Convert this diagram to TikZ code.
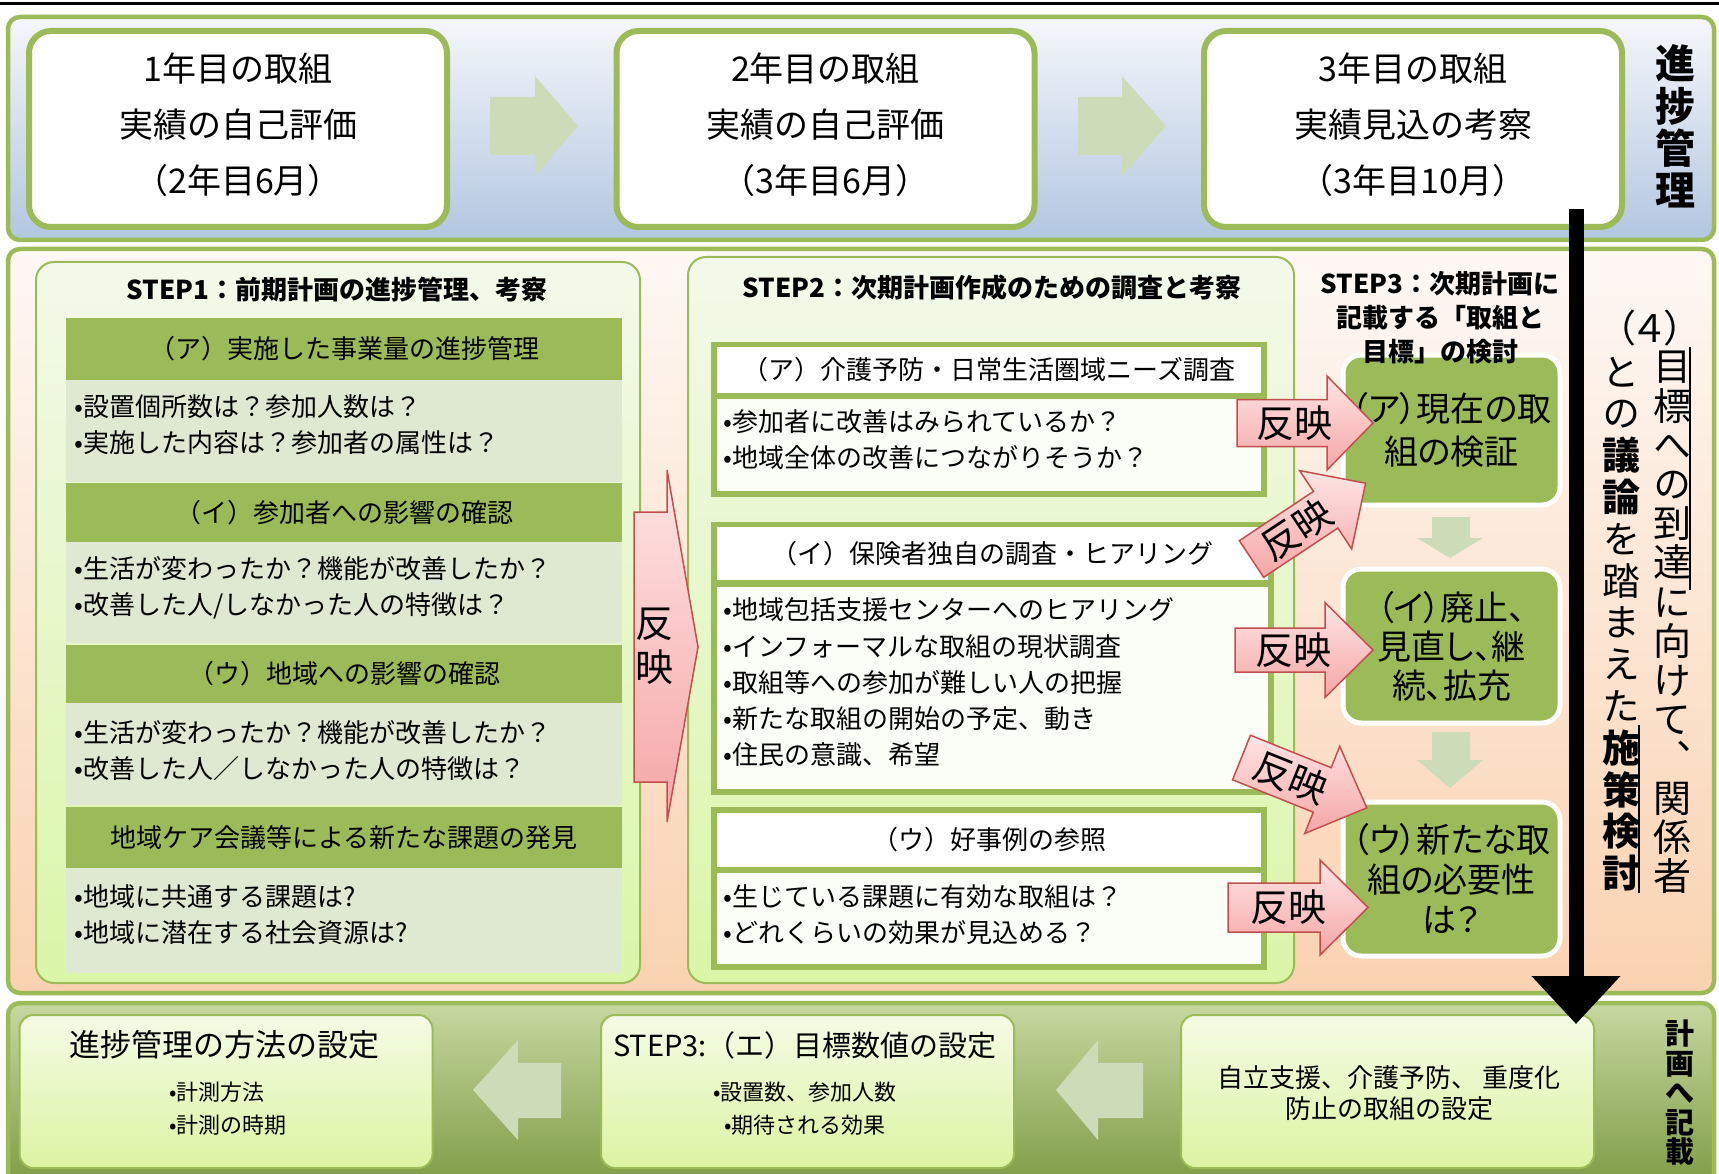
\documentclass[tikz,border=0pt]{standalone}
\usepackage{fontspec}
\setmainfont{Noto Sans CJK JP}
\newfontfamily\jpv{Noto Sans CJK JP}[RawFeature=+vert]
\newfontfamily\jpp{Noto Sans CJK JP}[RawFeature=+palt]
\usetikzlibrary{arrows.meta}
\definecolor{grn}{HTML}{9BBB59}
\definecolor{grnA}{HTML}{CDDCB8}
\definecolor{bodyG}{HTML}{DFE8D0}
\definecolor{pinkD}{HTML}{C0504D}
\definecolor{pinkL}{HTML}{FFE4E4}
\definecolor{pinkM}{HTML}{F5A6A6}
\definecolor{topA}{HTML}{F5F7FB}
\definecolor{topB}{HTML}{B2C6E0}
\definecolor{midA}{HTML}{FEF8F5}
\definecolor{midB}{HTML}{FAD2B0}
\definecolor{panA}{HTML}{F3F9EA}
\definecolor{panB}{HTML}{DAF6A8}
\definecolor{botA}{HTML}{C6D8A0}
\definecolor{botB}{HTML}{7A973F}
\definecolor{bbA}{HTML}{F4FBE5}
\definecolor{bbB}{HTML}{DCF4A2}
\definecolor{wbody}{HTML}{FBFDF7}
\tikzset{
 band/.style={draw=grn, line width=4.5, rounded corners=12},
 topbox/.style={draw=grn, line width=6, fill=white, rounded corners=22, minimum width=418, minimum height=196, inner sep=0},
 toptext/.style={align=center, inner sep=0, font=\fontsize{34}{56}\selectfont},
 panel/.style={draw=grn, line width=2, rounded corners=18, top color=panA, bottom color=panB, inner sep=0},
 ttl/.style={font=\bfseries\fontsize{26}{34}\selectfont, align=center, inner sep=0},
 hdr/.style={fill=grn, minimum width=556, inner sep=0, font=\fontsize{26}{30}\selectfont},
 hbody/.style={fill=bodyG, minimum width=556, inner sep=0},
 btext/.style={anchor=west, align=left, inner sep=0, font=\fontsize{26}{36}\selectfont},
 sframe/.style={fill=grn, inner sep=0},
 whdr/.style={fill=white, inner sep=0, font=\fontsize{26}{30}\selectfont},
 wbod/.style={fill=wbody, inner sep=0},
 gbox/.style={fill=grn, draw=white, line width=5, rounded corners=18, minimum width=217, align=center, inner sep=0},
 lgarrow/.style={fill=grnA},
 pinkarrow/.style={draw=pinkD, line width=1.5, top color=pinkL, bottom color=pinkM},
 reflect/.style={font=\fontsize{38}{44}\selectfont, inner sep=0, align=center},
 bbox/.style={draw=grn, line width=2, rounded corners=14, top color=bbA, bottom color=bbB, minimum width=413, minimum height=153, inner sep=0},
 vcol/.style={align=center, inner sep=0},
}
\begin{document}
\begin{tikzpicture}[x=1pt,y=-1pt]
\useasboundingbox (0,0) rectangle (1719,1174);
\fill[white] (0,0) rectangle (1719,1174);
\draw[line width=2.5] (0,3.5) -- (1719,3.5);
% bands
\draw[band, top color=topA, bottom color=topB] (8,17) rectangle (1714,240);
\draw[band, top color=midA, bottom color=midB] (8,249) rectangle (1714,993);
\begin{scope}
\clip (0,0) rectangle (1719,1174);
\draw[band, top color=botA, bottom color=botB] (8,1003) rectangle (1714,1200);
\end{scope}
% top row
\node[topbox] (y1) at (238,129) {};
\node[topbox] (y2) at (825.5,129) {};
\node[topbox] (y3) at (1413,129) {};
\node[toptext] (y1t) at (238,125) {1年目の取組\\実績の自己評価\\（2年目6月）};
\node[toptext] (y2t) at (825.5,125) {2年目の取組\\実績の自己評価\\（3年目6月）};
\node[toptext] (y3t) at (1413,125) {3年目の取組\\実績見込の考察\\（3年目10月）};
\fill[lgarrow] (490,97) -- (535,97) -- (535,76) -- (578,126) -- (535,176) -- (535,155) -- (490,155) -- cycle;
\fill[lgarrow] (1078,97) -- (1122,97) -- (1122,76) -- (1166,126) -- (1122,176) -- (1122,155) -- (1078,155) -- cycle;
\node[font=\bfseries\fontsize{40}{42.3}\selectfont, align=center, inner sep=0] (shinchoku) at (1675,126.5) {進\\捗\\管\\理};
% panels
\node[panel, minimum width=604, minimum height=721] (s1) at (338,622.5) {};
\node[panel, minimum width=606, minimum height=726] (s2) at (991,620) {};
\node[ttl] (t1) at (337,290) {STEP1：前期計画の進捗管理、考察};
\node[ttl] (t2) at (992,288) {STEP2：次期計画作成のための調査と考察};
% STEP1 blocks
\node[hdr, minimum height=62] (h1a) at (344,349) {（ア）実施した事業量の進捗管理};
\node[hbody, minimum height=102] (b1a) at (344,431) {};
\node[hdr, minimum height=59] (h1b) at (344,512.5) {（イ）参加者への影響の確認};
\node[hbody, minimum height=101] (b1b) at (344,592.5) {};
\node[hdr, minimum height=58] (h1c) at (344,674) {（ウ）地域への影響の確認};
\node[hbody, minimum height=102] (b1c) at (344,754) {};
\node[hdr, minimum height=61] (h1d) at (344,837.5) {地域ケア会議等による新たな課題の発見};
\node[hbody, minimum height=105] (b1d) at (344,920.5) {};
\node[btext] (x1a) at (74,425) {•設置個所数は？参加人数は？\\•実施した内容は？参加者の属性は？};
\node[btext] (x1b) at (74,587.5) {•生活が変わったか？機能が改善したか？\\•改善した人/しなかった人の特徴は？};
\node[btext] (x1c) at (74,750.5) {•生活が変わったか？機能が改善したか？\\•改善した人／しなかった人の特徴は？};
\node[btext] (x1d) at (74,915) {•地域に共通する課題は?\\•地域に潜在する社会資源は?};
% STEP2 blocks
\node[sframe, minimum width=556, minimum height=155] (f2a) at (989,419.5) {};
\node[whdr, minimum width=544, minimum height=46] (h2a) at (989,370) {（ア）介護予防・日常生活圏域ニーズ調査};
\node[wbod, minimum width=544, minimum height=92] (b2a) at (989,445) {};
\node[btext] (x2a) at (723,439.5) {•参加者に改善はみられているか？\\•地域全体の改善につながりそうか？};
\node[sframe, minimum width=563, minimum height=273] (f2b) at (992.5,658.5) {};
\node[whdr, minimum width=551, minimum height=53] (h2b) at (992.5,553.5) {（イ）保険者独自の調査・ヒアリング};
\node[wbod, minimum width=551, minimum height=202] (b2b) at (992.5,688) {};
\node[btext, font=\fontsize{26}{36.25}\selectfont] (x2b) at (723,682.5) {•地域包括支援センターへのヒアリング\\•インフォーマルな取組の現状調査\\•取組等への参加が難しい人の把握\\•新たな取組の開始の予定、動き\\•住民の意識、希望};
\node[sframe, minimum width=556, minimum height=163] (f2c) at (989,888.5) {};
\node[whdr, minimum width=544, minimum height=54] (h2c) at (989,840) {（ウ）好事例の参照};
\node[wbod, minimum width=544, minimum height=91] (b2c) at (989,918.5) {};
\node[btext] (x2c) at (723,914.5) {•生じている課題に有効な取組は？\\•どれくらいの効果が見込める？};
% STEP3
\node[gbox, minimum height=150, font=\jpp\fontsize{34}{43}\selectfont] (g1) at (1451.5,430) {（ア）現在の取\\組の検証};
\node[gbox, minimum height=154, font=\jpp\fontsize{34}{39}\selectfont] (g2) at (1451.5,646) {（イ）廃止、\\見直し、継\\続、拡充};
\node[gbox, minimum height=154, font=\jpp\fontsize{34}{40}\selectfont] (g3) at (1451.5,879) {（ウ）新たな取\\組の必要性\\は？};
\node[ttl] (t3) at (1440,318) {STEP3：次期計画に\\記載する「取組と\\目標」の検討};
\fill[lgarrow] (1432,517) -- (1470,517) -- (1470,538) -- (1483,538) -- (1450,558) -- (1417,538) -- (1432,538) -- cycle;
\fill[lgarrow] (1432,732) -- (1470,732) -- (1470,760) -- (1483,760) -- (1450,788) -- (1417,760) -- (1432,760) -- cycle;
% big pink arrow
\draw[pinkarrow] (634,512) -- (667,512) -- (667,470) -- (698,647) -- (667,822) -- (667,782) -- (634,782) -- cycle;
\node[reflect] (hbig) at (654,646) {反\\映};
% small pink arrows
\begin{scope}[shift={(1237,423)}]
\draw[pinkarrow] (0,-23.5) -- (90,-23.5) -- (90,-47) -- (136,0) -- (90,47) -- (90,23.5) -- (0,23.5) -- cycle;
\node[reflect] (r1) at (57,0) {反映};
\end{scope}
\begin{scope}[shift={(1251.5,559)}, rotate=33.6]
\draw[pinkarrow] (0,-22) -- (89,-22) -- (89,-47) -- (137,0) -- (89,47) -- (89,22) -- (0,22) -- cycle;
\node[reflect, rotate=33.6] (r2) at (54,0) {反映};
\end{scope}
\begin{scope}[shift={(1235,650)}]
\draw[pinkarrow] (0,-22) -- (90,-22) -- (90,-47.5) -- (138,0) -- (90,47.5) -- (90,22) -- (0,22) -- cycle;
\node[reflect] (r3) at (58,0) {反映};
\end{scope}
\begin{scope}[shift={(1241.5,757.5)}, rotate=-21.9]
\draw[pinkarrow] (0,-24) -- (87,-24) -- (87,-47) -- (135,0) -- (87,47) -- (87,24) -- (0,24) -- cycle;
\node[reflect, rotate=-21.9] (r4) at (53,0) {反映};
\end{scope}
\begin{scope}[shift={(1228,907.5)}]
\draw[pinkarrow] (0,-24.5) -- (92,-24.5) -- (92,-47.5) -- (140,0) -- (92,47.5) -- (92,24.5) -- (0,24.5) -- cycle;
\node[reflect] (r5) at (60,0) {反映};
\end{scope}
% bottom row
\node[bbox] (bA) at (226,1091.5) {};
\node[bbox] (bB) at (807.5,1091.5) {};
\node[bbox] (bC) at (1387.5,1091.5) {};
\node[font=\fontsize{31}{31}\selectfont, inner sep=0] (bAt) at (224,1045) {進捗管理の方法の設定};
\node[font=\fontsize{22}{33}\selectfont, align=left, inner sep=0] (bAx) at (228,1109) {•計測方法\\•計測の時期};
\node[font=\fontsize{29}{29}\selectfont, inner sep=0] (bBt) at (805,1045) {STEP3:（エ）目標数値の設定};
\node[font=\fontsize{22}{33}\selectfont, align=center, inner sep=0] (bBx) at (805,1109) {•設置数、参加人数\\•期待される効果};
\node[font=\fontsize{26}{31}\selectfont, align=center, inner sep=0] (bCx) at (1389,1093) {自立支援、介護予防、 重度化\\防止の取組の設定};
\fill[lgarrow] (561,1063) -- (518,1063) -- (518,1040) -- (473,1090) -- (518,1140) -- (518,1118) -- (561,1118) -- cycle;
\fill[lgarrow] (1143,1063) -- (1098,1063) -- (1098,1040) -- (1056,1090) -- (1098,1140) -- (1098,1118) -- (1143,1118) -- cycle;
\node[font=\bfseries\fontsize{29}{29.5}\selectfont, align=center, inner sep=0] (keikaku) at (1680,1093) {計\\画\\へ\\記\\載};
% black arrow
\coordinate (bkS) at (1576,209);
\coordinate (bkE) at (1576,1024);
\draw[line width=15, -{Triangle[width=86pt,length=48pt]}] (bkS) -- (bkE);
% vertical text
\node[font=\jpp\fontsize{38}{38}\selectfont, inner sep=0] (v4) at (1650,328) {（４）};
\node[vcol, font=\jpv\fontsize{38}{39.2}\selectfont] (vr) at (1672,622.5) {目\\標\\へ\\の\\到\\達\\に\\向\\け\\て\\、\\関\\係\\者};
\node[vcol, font=\jpv\fontsize{38}{41.8}\selectfont] (vl) at (1621,624) {と\\の\\{\bfseries 議}\\{\bfseries 論}\\を\\踏\\ま\\え\\た\\{\bfseries 施}\\{\bfseries 策}\\{\bfseries 検}\\{\bfseries 討}};
\draw[line width=1.8] (1690,347) -- (1690,590);
\draw[line width=1.8] (1639,725) -- (1639,893);
\end{tikzpicture}
\end{document}
